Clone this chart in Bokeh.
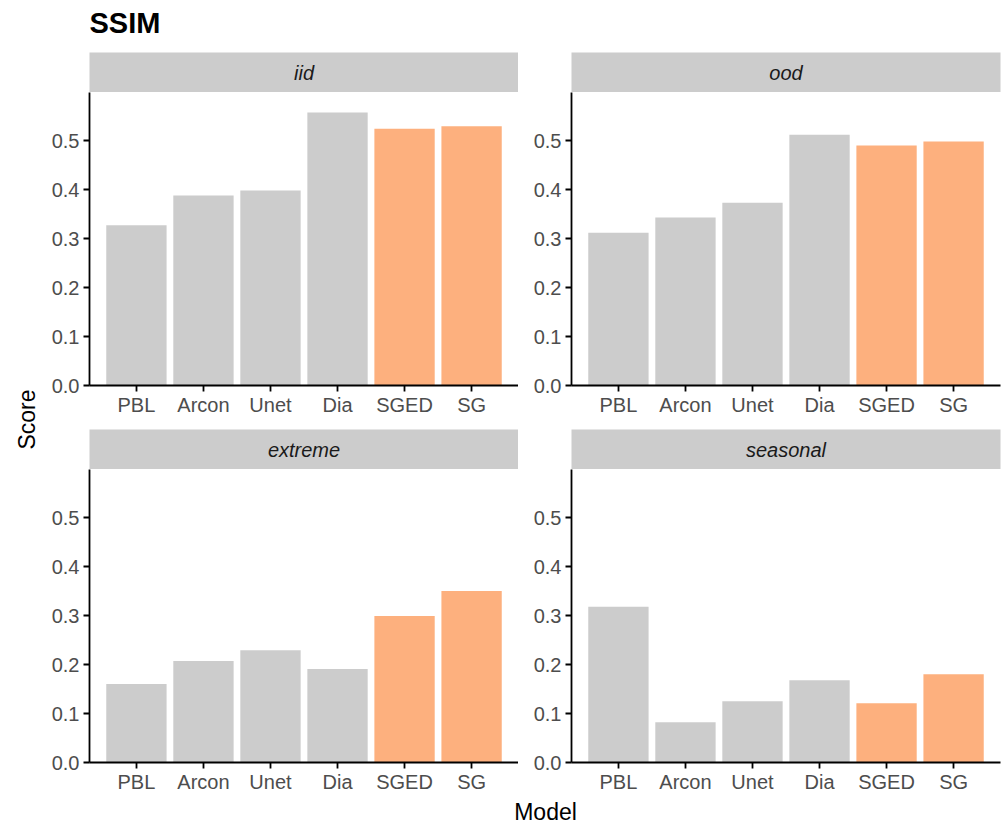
import math
from bokeh.plotting import figure
from bokeh.layouts import column, row
from bokeh.models import FactorRange, Range1d, FixedTicker, PrintfTickFormatter, ColumnDataSource
from bokeh.core.properties import value
from bokeh.embed import file_html
from bokeh.resources import INLINE

# ---------------- data ----------------
models = ["PBL", "Arcon", "Unet", "Dia", "SGED", "SG"]
highlighted = ["SGED", "SG"]
panels = ["iid", "ood", "extreme", "seasonal"]
iid_scores = [0.327, 0.388, 0.398, 0.557, 0.524, 0.529]
ood_scores = [0.312, 0.343, 0.373, 0.512, 0.490, 0.498]
extreme_scores = [0.160, 0.207, 0.229, 0.191, 0.299, 0.350]
seasonal_scores = [0.318, 0.082, 0.125, 0.168, 0.121, 0.180]
y_ticks = [0.0, 0.1, 0.2, 0.3, 0.4, 0.5]
y_max = 0.598
title_text = "SSIM"
x_title = "Model"
y_title = "Score"

# ---------------- style ----------------
FONT = "Liberation Sans"
GREY = "#cccccc"
ORANGE = "#fdb07e"
TICK_COL = "#4d4d4d"
FRAME_W = 429
COMMON = dict(output_backend="svg", toolbar_location=None)


def deco_fig(width, height, xr, yr):
    f = figure(width=width, height=height, x_range=xr, y_range=yr,
               x_axis_type=None, y_axis_type=None,
               min_border_left=0, min_border_right=0,
               min_border_top=0, min_border_bottom=0, **COMMON)
    f.outline_line_color = None
    f.grid.visible = False
    return f


def strip_fig(label, left, right):
    f = figure(width=left + FRAME_W + right, height=40,
               x_range=Range1d(0, 1), y_range=Range1d(0, 1),
               x_axis_type=None, y_axis_type=None,
               min_border_left=left, min_border_right=right,
               min_border_top=0, min_border_bottom=0, **COMMON)
    f.outline_line_color = None
    f.grid.visible = False
    f.background_fill_color = GREY
    f.border_fill_color = "white"
    f.text(x=[0.5], y=[0.5], text=[label], text_align="center",
           text_baseline="middle", text_font=value(FONT),
           text_font_size=value("20px"), text_font_style=value("italic"),
           text_color="#1a1a1a")
    return f


def panel_fig(scores, left, right, bottom, top_border):
    height = top_border + round(y_max * 490) + bottom
    f = figure(width=left + FRAME_W + right, height=height,
               x_range=FactorRange(factors=models, range_padding=0.2,
                                   range_padding_units="absolute"),
               y_range=Range1d(0, y_max),
               min_border_left=left, min_border_right=right,
               min_border_top=top_border, min_border_bottom=bottom, **COMMON)
    f.outline_line_color = None
    f.grid.visible = False
    colors = [ORANGE if m in highlighted else GREY for m in models]
    src = ColumnDataSource(dict(model=models, score=scores, color=colors))
    f.vbar(x="model", top="score", width=0.9, fill_color="color",
           line_color=None, source=src)
    f.yaxis.ticker = FixedTicker(ticks=y_ticks)
    f.yaxis.formatter = PrintfTickFormatter(format="%.1f")
    for ax in (f.xaxis[0], f.yaxis[0]):
        ax.axis_line_color = "black"
        ax.axis_line_width = 1.8
        ax.major_tick_line_color = "black"
        ax.major_tick_line_width = 1.8
        ax.major_tick_out = 6
        ax.major_tick_in = 0
        ax.minor_tick_line_color = None
        ax.major_label_text_font = FONT
        ax.major_label_text_font_size = "20px"
        ax.major_label_text_color = TICK_COL
    f.xaxis.major_label_standoff = 2
    f.yaxis.major_label_standoff = 4
    return f


# ---------------- layout ----------------
L_LEFT, L_RIGHT = 41, 0
R_LEFT, R_RIGHT = 53, 5

s1 = strip_fig(panels[0], L_LEFT, L_RIGHT)
s2 = strip_fig(panels[1], R_LEFT, R_RIGHT)
p1 = panel_fig(iid_scores, L_LEFT, L_RIGHT, 44, 0)
p2 = panel_fig(ood_scores, R_LEFT, R_RIGHT, 44, 0)
s3 = strip_fig(panels[2], L_LEFT, L_RIGHT)
s4 = strip_fig(panels[3], R_LEFT, R_RIGHT)
p3 = panel_fig(extreme_scores, L_LEFT, L_RIGHT, 34, 0)
p4 = panel_fig(seasonal_scores, R_LEFT, R_RIGHT, 34, 0)

grid = column(row(s1, s2), row(p1, p2), row(s3, s4), row(p3, p4))
grid_h = 40 + p1.height + 40 + p3.height

TITLE_H = 52
SCORE_W = 48
score_f = deco_fig(SCORE_W, grid_h, Range1d(0, SCORE_W), Range1d(0, grid_h))
score_f.text(x=[26], y=[grid_h - (419 - TITLE_H)], text=[y_title],
             angle=math.pi / 2, text_align="center", text_baseline="middle",
             text_font=value(FONT), text_font_size=value("23px"),
             text_color="black")

TOTAL_W = SCORE_W + s1.width + s2.width
title_f = deco_fig(TOTAL_W, TITLE_H, Range1d(0, TOTAL_W), Range1d(0, TITLE_H))
title_f.text(x=[89], y=[TITLE_H - 22.5], text=[title_text], text_align="left",
             text_baseline="middle", text_font=value(FONT),
             text_font_size=value("29px"), text_font_style=value("bold"),
             text_color="black")

MODEL_H = 825 - TITLE_H - grid_h
model_f = deco_fig(TOTAL_W, MODEL_H, Range1d(0, TOTAL_W), Range1d(0, MODEL_H))
model_f.text(x=[545], y=[825 - 811], text=[x_title], text_align="center",
             text_baseline="middle", text_font=value(FONT),
             text_font_size=value("23px"), text_color="black")

layout = column(title_f, row(score_f, grid), model_f)

open("out.html", "w").write(file_html(layout, INLINE))
